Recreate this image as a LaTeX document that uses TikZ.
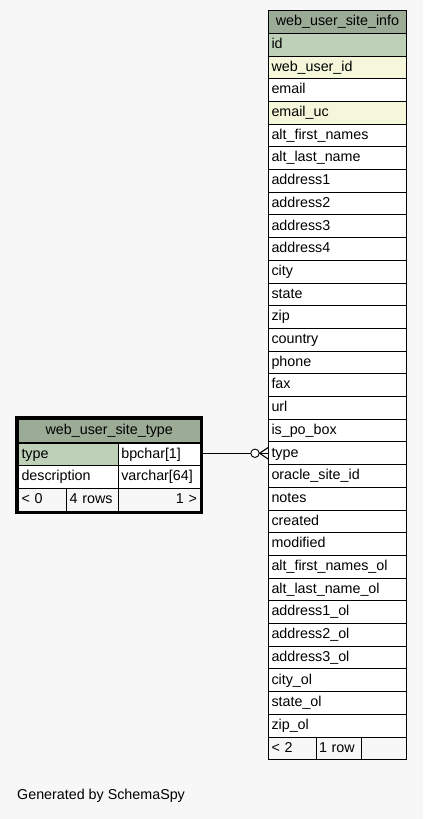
\documentclass[tikz,border=0pt]{standalone}
\usepackage{fontspec}
\setmainfont{Liberation Sans}
\usetikzlibrary{arrows.meta}
\definecolor{schemabg}{HTML}{F7F7F7}
\definecolor{headgreen}{HTML}{9BAB96}
\definecolor{keygreen}{HTML}{BED1B8}
\definecolor{idxyellow}{HTML}{F4F7DA}

\begin{document}
\begin{tikzpicture}[x=1pt, y=-1pt, font=\fontsize{14.3}{16}\selectfont,
	cell/.style={anchor=north west, draw, line width=0.9pt, outer sep=0pt, inner xsep=3pt, inner ysep=0pt,
		text height=10.5pt, text depth=3pt, minimum height=22.7pt, align=left},
	head/.style={cell, fill=headgreen, align=center, minimum height=23.3pt}]
	\useasboundingbox[fill=schemabg] (0,0) rectangle (423,819);

	% web_user_site_type
	\draw[line width=3pt] (16.8,417) rectangle (201.7,512.6);
	\node[head, text width=175.5pt] (type-title) at (18.5,419.5) {web\_user\_site\_type};
	\node[cell, fill=keygreen, text width=93.8pt] (type-key) at (18.5,443) {type};
	\node[cell, fill=white, text width=75.7pt] (type-bpchar) at (118.3,443) {bpchar[1]};
	\node[cell, fill=white, text width=93.8pt] (type-desc) at (18.5,465.7) {description};
	\node[cell, fill=white, text width=75.7pt] (type-varchar) at (118.3,465.7) {varchar[64]};
	\node[cell, text width=42.2pt] (type-parents) at (18.5,488.4) {< 0};
	\node[cell, text width=45.6pt] (type-rows) at (66.7,488.4) {4 rows};
	\node[cell, text width=75.7pt, align=right] (type-children) at (118.3,488.4) {1 >};

	% web_user_site_info
	\node[head, text width=132pt] (info-title) at (268.5,10) {web\_user\_site\_info};
	\foreach \colname/\clr [count=\i] in {id/keygreen, web\_user\_id/idxyellow, email/white,
		email\_uc/idxyellow, alt\_first\_names/white, alt\_last\_name/white, address1/white,
		address2/white, address3/white, address4/white, city/white, state/white, zip/white,
		country/white, phone/white, fax/white, url/white, is\_po\_box/white, type/white,
		oracle\_site\_id/white, notes/white, created/white, modified/white,
		alt\_first\_names\_ol/white, alt\_last\_name\_ol/white, address1\_ol/white,
		address2\_ol/white, address3\_ol/white, city\_ol/white, state\_ol/white, zip\_ol/white}
		\node[cell, fill=\clr, text width=132pt] (info-\i) at (268.5,{33.3+(\i-1)*22.7}) {\colname};
	\node[cell, text width=41.5pt] (info-parents) at (268.5,737) {< 2};
	\node[cell, text width=39pt] (info-rows) at (316,737) {1 row};
	\node[cell, text width=39.5pt] (info-children) at (361,737) {};

	% relationship
	\draw[line width=0.9pt] (type-bpchar.east |- info-19.west) -- (info-19.west);
	\draw[line width=1.1pt] ([xshift=-9pt]info-19.west) -- ([yshift=6pt]info-19.west)
		([xshift=-9pt]info-19.west) -- ([yshift=-6pt]info-19.west);
	\draw[line width=0.9pt, fill=white] ([xshift=-13.5pt]info-19.west) circle (4.2pt);

	\node[anchor=west, inner sep=0pt] (credit) at (17,796) {Generated by SchemaSpy};
\end{tikzpicture}
\end{document}
